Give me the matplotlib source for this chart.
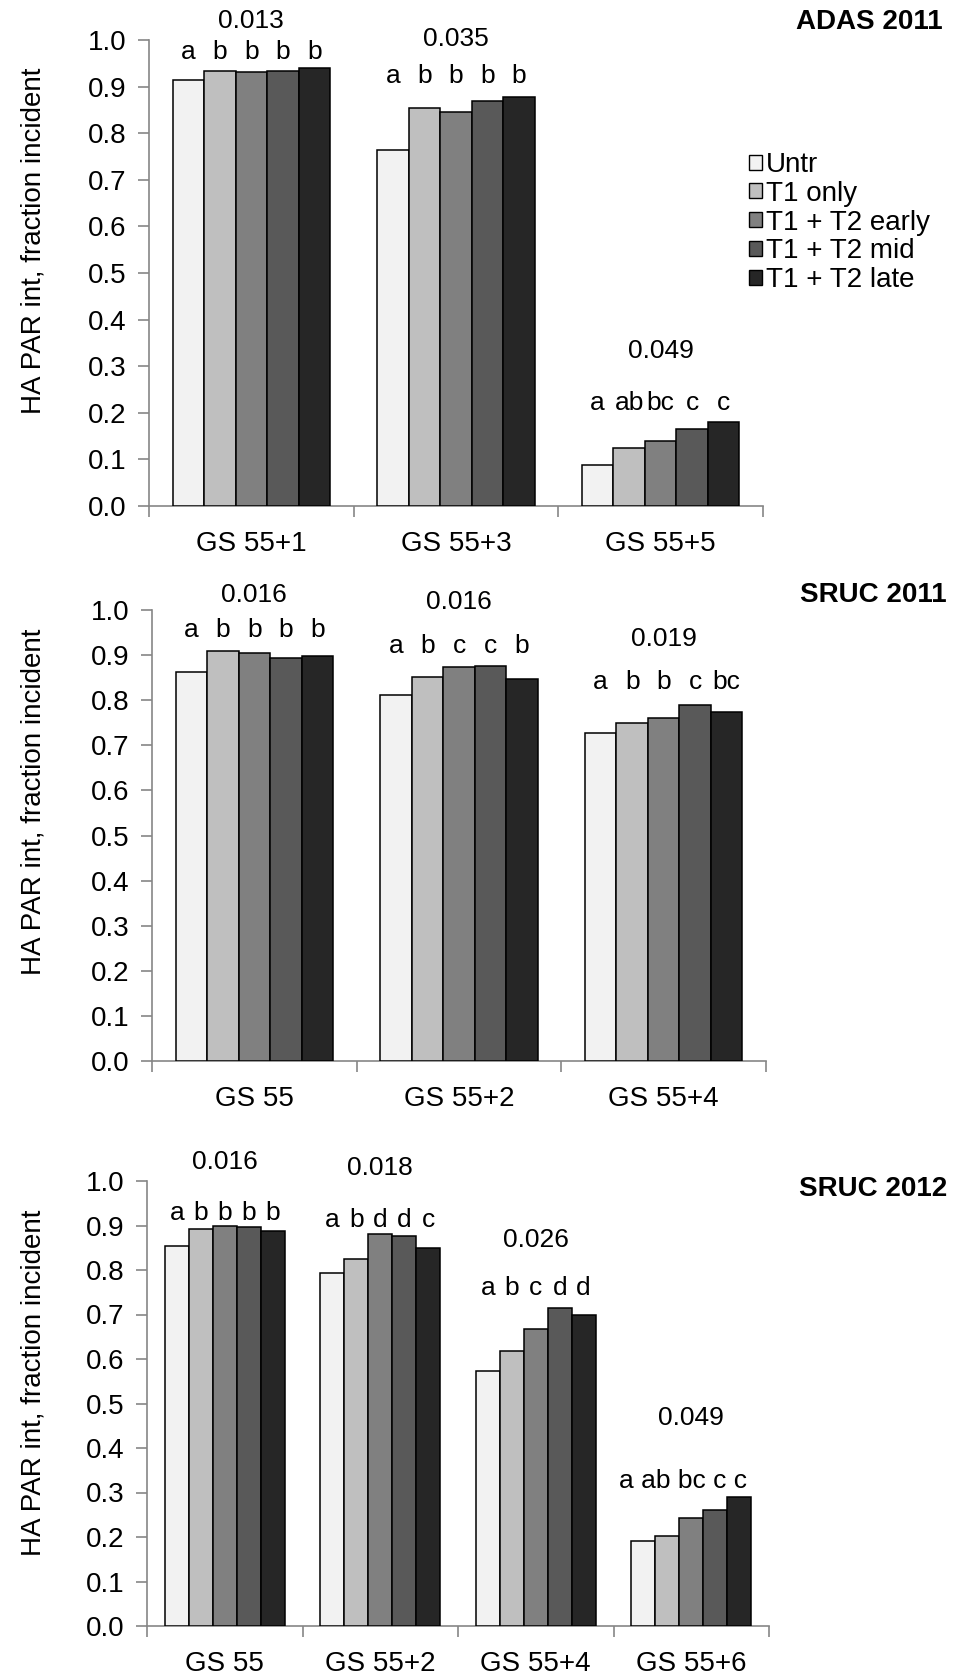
#!/usr/bin/env python3
"""
HA PAR interception (fraction incident) for three sites/years,
five fungicide treatments per growth stage, with LSD and letter groups.
"""

import matplotlib
matplotlib.use("Agg")
import matplotlib.pyplot as plt
from matplotlib.patches import Patch
import numpy as np

plt.rcParams["font.family"] = ["Liberation Sans", "DejaVu Sans"]

TREATMENTS = ["Untr", "T1 only", "T1 + T2 early", "T1 + T2 mid", "T1 + T2 late"]
COLORS = ["#f2f2f2", "#bfbfbf", "#808080", "#595959", "#262626"]

# ADAS 2011
ADAS11_STAGES = ["GS 55+1", "GS 55+3", "GS 55+5"]
ADAS11_VALUES = [
    [0.914, 0.933, 0.932, 0.934, 0.939],
    [0.765, 0.855, 0.846, 0.869, 0.877],
    [0.089, 0.125, 0.140, 0.165, 0.180],
]
ADAS11_LSD = ["0.013", "0.035", "0.049"]
ADAS11_LETTERS = [
    ["a", "b", "b", "b", "b"],
    ["a", "b", "b", "b", "b"],
    ["a", "ab", "bc", "c", "c"],
]
ADAS11_LETTER_Y = [0.975, 0.922, 0.220]
ADAS11_LSD_Y = [1.040, 1.003, 0.333]

# SRUC 2011
SRUC11_STAGES = ["GS 55", "GS 55+2", "GS 55+4"]
SRUC11_VALUES = [
    [0.862, 0.908, 0.904, 0.894, 0.899],
    [0.812, 0.851, 0.873, 0.876, 0.847],
    [0.728, 0.750, 0.761, 0.789, 0.774],
]
SRUC11_LSD = ["0.016", "0.016", "0.019"]
SRUC11_LETTERS = [
    ["a", "b", "b", "b", "b"],
    ["a", "b", "c", "c", "b"],
    ["a", "b", "b", "c", "bc"],
]
SRUC11_LETTER_Y = [0.956, 0.921, 0.841]
SRUC11_LSD_Y = [1.034, 1.017, 0.935]

# SRUC 2012
SRUC12_STAGES = ["GS 55", "GS 55+2", "GS 55+4", "GS 55+6"]
SRUC12_VALUES = [
    [0.854, 0.892, 0.899, 0.896, 0.887],
    [0.794, 0.825, 0.880, 0.877, 0.849],
    [0.574, 0.619, 0.667, 0.715, 0.700],
    [0.192, 0.202, 0.243, 0.260, 0.289],
]
SRUC12_LSD = ["0.016", "0.018", "0.026", "0.049"]
SRUC12_LETTERS = [
    ["a", "b", "b", "b", "b"],
    ["a", "b", "d", "d", "c"],
    ["a", "b", "c", "d", "d"],
    ["a", "ab", "bc", "c", "c"],
]
SRUC12_LETTER_Y = [0.928, 0.912, 0.759, 0.326]
SRUC12_LSD_Y = [1.043, 1.030, 0.868, 0.468]

FS = 19
SPINE = "#868686"
W, H = 957, 1675


def draw_panel(ax, box, stages, values, lsd, letters, letter_y, lsd_y,
               title, title_xy, label_y, fig):
    n = len(stages)
    vals = np.array(values)
    width = 0.77 / len(TREATMENTS)
    x = np.arange(n)
    ax.set_xlim(-0.5, n - 0.5)
    ax.set_ylim(0, 1.0)
    for j in range(len(TREATMENTS)):
        ax.bar(x + (j - 2) * width, vals[:, j], width, color=COLORS[j],
               edgecolor="black", linewidth=1.1, zorder=3)

    renderer = fig.canvas.get_renderer()
    for i in range(n):
        texts = [ax.text(x[i] + (j - 2) * width, letter_y[i], letters[i][j],
                         ha="center", va="center", fontsize=FS)
                 for j in range(len(TREATMENTS))]
        boxes = [t.get_window_extent(renderer) for t in texts]
        clash = any(boxes[k].x1 > boxes[k + 1].x0 for k in range(len(boxes) - 1))
        if clash:
            # too tight to sit over single bars: write the row as one string
            for t in texts:
                t.remove()
            ax.text(x[i] - 0.05, letter_y[i], " ".join(letters[i]), ha="center",
                    va="center", fontsize=FS)
        ax.text(x[i], lsd_y[i], lsd[i], ha="center", va="center", fontsize=FS)

    yt = np.arange(0, 1.01, 0.1)
    ax.set_yticks(yt)
    ax.set_yticklabels([f"{v:.1f}" for v in yt])
    ax.set_xticks(np.arange(n + 1) - 0.5)
    ax.set_xticklabels([])
    ax.set_xticks(x, minor=True)
    ax.set_xticklabels(stages, minor=True)
    ax.set_xlim(-0.5, n - 0.5)
    ax.tick_params(axis="x", which="major", length=8, width=1.2, color=SPINE, direction="out")
    ax.tick_params(axis="x", which="minor", length=0, pad=18, labelsize=20)
    ax.tick_params(axis="y", length=8, width=1.2, color=SPINE, pad=8, labelsize=20)
    for s in ["top", "right"]:
        ax.spines[s].set_visible(False)
    for s in ["left", "bottom"]:
        ax.spines[s].set_color(SPINE)
        ax.spines[s].set_linewidth(1.2)
    ax.set_ylabel("HA PAR int, fraction incident", fontsize=20)
    ax.yaxis.set_label_coords((47 - box[0]) / box[2], label_y)
    fig.text(title_xy[0], title_xy[1], title, ha="center", va="center",
             fontsize=20, fontweight="bold")


def main() -> None:
    fig = plt.figure(figsize=(W / 100, H / 100), dpi=100)

    # axes boxes in pixels: left, top, width, height
    boxes = [(149, 40, 614, 466), (152, 610, 614, 451), (147, 1181, 622, 445)]
    axes = [fig.add_axes([l / W, 1 - (t + h) / H, w / W, h / H]) for l, t, w, h in boxes]

    draw_panel(axes[0], boxes[0], ADAS11_STAGES, ADAS11_VALUES, ADAS11_LSD, ADAS11_LETTERS,
               ADAS11_LETTER_Y, ADAS11_LSD_Y, "ADAS 2011", (869 / W, 1 - 22 / H), 0.569, fig)
    draw_panel(axes[1], boxes[1], SRUC11_STAGES, SRUC11_VALUES, SRUC11_LSD, SRUC11_LETTERS,
               SRUC11_LETTER_Y, SRUC11_LSD_Y, "SRUC 2011", (873 / W, 1 - 595 / H), 0.574, fig)
    draw_panel(axes[2], boxes[2], SRUC12_STAGES, SRUC12_VALUES, SRUC12_LSD, SRUC12_LETTERS,
               SRUC12_LETTER_Y, SRUC12_LSD_Y, "SRUC 2012", (873 / W, 1 - 1189 / H), 0.546, fig)

    handles = [Patch(facecolor=c, edgecolor="black", linewidth=1.0) for c in COLORS]
    fig.legend(handles, TREATMENTS, loc="upper left",
               bbox_to_anchor=(749 / W, 1 - 152 / H), frameon=False, fontsize=20,
               handlelength=0.45, handleheight=0.45, handletextpad=0.15,
               labelspacing=0.1, borderpad=0, borderaxespad=0)

    fig.savefig("out.png", dpi=100)
    plt.close(fig)


if __name__ == "__main__":
    main()
